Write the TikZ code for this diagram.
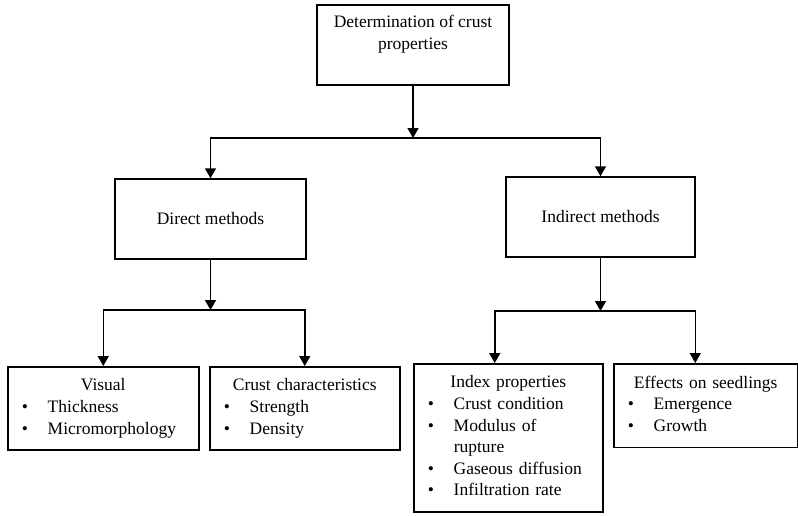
\documentclass[tikz,border=0pt]{standalone}
\usepackage{fontspec}
\setmainfont{Liberation Serif}
\usetikzlibrary{arrows.meta}

\newcommand{\crustitem}[1]{\makebox[26pt][l]{\textbullet}#1\rule[-4pt]{0pt}{4pt}\par}

\begin{document}
\begin{tikzpicture}[x=1pt, y=-1pt,
  font=\fontsize{17.5}{21.6}\selectfont,
  box/.style={draw, line width=1.5pt, minimum width=#1, minimum height=80pt, inner sep=0pt},
  listbox/.style={draw, line width=1.5pt, anchor=north west, inner xsep=14pt, inner ysep=12pt},
  link/.style={line width=1.5pt, -{Triangle[length=10pt, width=11pt]}}]
  \useasboundingbox (0,0) rectangle (798,515);

  % top level
  \node[box=192pt] (top) at (413,45) {};
  \node[anchor=north, align=center, inner sep=0pt] (toptext) at (413,15) {Determination of crust\\properties};

  % methods
  \node[box=191pt] (direct) at (210.5,219) {Direct methods};
  \node[box=189pt] (indirect) at (600.5,217) {Indirect methods};

  % lists
  \node[listbox, text width=163pt] (visual) at (7,366)
    {{\centering Visual\par}\crustitem{Thickness}\crustitem{Micromorphology}};
  \node[listbox, text width=162pt] (crustchar) at (209,366)
    {{\centering Crust characteristics\par}\crustitem{Strength}\crustitem{Density}};
  \node[listbox, text width=161pt] (index) at (413,363)
    {{\centering Index properties\par}\crustitem{Crust condition}\crustitem{Modulus of}\hspace*{26pt}rupture\par\crustitem{Gaseous diffusion}\crustitem{Infiltration rate}};
  \node[listbox, text width=156pt] (seedlings) at (613,363)
    {{\centering Effects on seedlings\par}\crustitem{Emergence}\crustitem{Growth}};

  % connectors
  \coordinate (topsplit) at (413,138);
  \coordinate (leftsplit) at (210.5,310);
  \coordinate (rightsplit) at (600.5,311);
  \draw[link] (top.south) -- (topsplit);
  \draw[link] (topsplit) -| (direct.north);
  \draw[link] (topsplit) -| (indirect.north);
  \draw[link] (direct.south) -- (leftsplit);
  \draw[link] (leftsplit) -| (visual.north);
  \draw[link] (leftsplit) -| (crustchar.north);
  \draw[link] (indirect.south) -- (rightsplit);
  \draw[link] (rightsplit) -| ([xshift=-13.5pt]index.north);
  \draw[link] (rightsplit) -| ([xshift=-10.5pt]seedlings.north);
\end{tikzpicture}
\end{document}
